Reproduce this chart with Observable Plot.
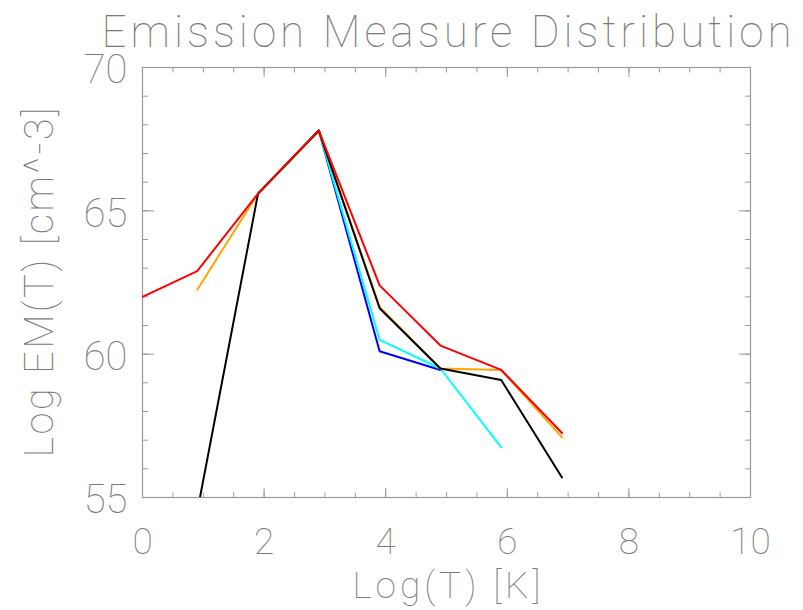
<!DOCTYPE html>
<html>
<head>
<meta charset="utf-8">
<script src="https://cdn.jsdelivr.net/npm/d3@7"></script>
<script src="https://cdn.jsdelivr.net/npm/@observablehq/plot@0.6"></script>
<style>
  html, body { margin: 0; padding: 0; background: #fff; }
</style>
</head>
<body>
<div id="chart"></div>
<script>
// Temperature bins, Log(T) [K]
const logT = [0, 0.9, 1.9, 2.9, 3.9, 4.9, 5.9, 6.9];

// Log EM(T) per model run (null = no value at that bin)
const emBlue   = [null, null, 65.6, 67.8, 60.1, 59.45, null, null];
const emCyan   = [null, null, 65.6, 67.8, 60.5, 59.5, 56.75, null];
const emOrange = [null, 62.25, 65.6, 67.8, 61.65, 59.5, 59.45, 57.1];
const emBlack  = [null, 54.5, 65.6, 67.8, 61.6, 59.5, 59.1, 55.7];
const emRed    = [62.0, 62.9, 65.6, 67.8, 62.4, 60.3, 59.45, 57.25];

const seriesNames  = ["blue", "cyan", "orange", "black", "red"];
const seriesColors = ["#4a30f2", "#30f0ff", "#ffc410", "#1a1a1a", "#ff2a2a"];
const seriesValues = [emBlue, emCyan, emOrange, emBlack, emRed];

// Axis ticks
const xMajor = [0, 2, 4, 6, 8, 10];
const xMinor = d3.range(0, 10.01, 0.5);
const yMajor = [55, 60, 65, 70];
const yMinor = d3.range(55, 70.01, 1);

const titleText = "Emission Measure Distribution";
const xLabel = "Log(T) [K]";
const yLabel = "Log EM(T) [cm^-3]";

// Tidy rows, drawn in series order (later series on top)
const rows = [];
seriesNames.forEach((name, s) => {
  seriesValues[s].forEach((v, i) => {
    if (v != null) rows.push({series: name, t: logT[i], em: v});
  });
});

const gray = "#7a7a7a";
const font = "Roboto";
const weight = 100;

const chart = Plot.plot({
  width: 803,
  height: 610,
  marginLeft: 142,
  marginRight: 53,
  marginTop: 67,
  marginBottom: 113,
  x: {domain: [0, 10]},
  y: {domain: [55, 70]},
  color: {domain: seriesNames, range: seriesColors},
  style: {background: "#fff", fontFamily: font},
  marks: [
    Plot.frame({stroke: "#999", strokeWidth: 1.2}),
    // inward ticks on all four sides
    Plot.axisX(xMinor, {anchor: "bottom", tickSize: -4.5, fill: "none", stroke: "#999", label: null}),
    Plot.axisX(xMinor, {anchor: "top", tickSize: -4.5, fill: "none", stroke: "#999", label: null}),
    Plot.axisX(xMajor, {anchor: "bottom", tickSize: -9, fill: "none", stroke: "#999", label: null}),
    Plot.axisX(xMajor, {anchor: "top", tickSize: -9, fill: "none", stroke: "#999", label: null}),
    Plot.axisY(yMinor, {anchor: "left", tickSize: -6, fill: "none", stroke: "#999", label: null}),
    Plot.axisY(yMinor, {anchor: "right", tickSize: -6, fill: "none", stroke: "#999", label: null}),
    Plot.axisY(yMajor, {anchor: "left", tickSize: -12, fill: "none", stroke: "#999", label: null}),
    Plot.axisY(yMajor, {anchor: "right", tickSize: -12, fill: "none", stroke: "#999", label: null}),
    // tick labels
    Plot.axisX(xMajor, {anchor: "bottom", tickSize: 0, tickPadding: 30, fontSize: 37, fontWeight: weight, fill: gray, label: null}),
    Plot.axisY(yMajor, {anchor: "left", tickSize: 0, tickPadding: 15, dy: 3, fontSize: 40, fontWeight: weight, fill: gray, label: null}),
    // data
    Plot.line(rows, {x: "t", y: "em", z: "series", stroke: "series", strokeWidth: 2, clip: true}),
    // title and axis titles
    Plot.text([titleText], {text: d => d, frameAnchor: "top", dy: -35, fontSize: 44, fontWeight: weight, fill: gray, lineAnchor: "middle"}),
    Plot.text([xLabel], {text: d => d, frameAnchor: "bottom", dy: 89, fontSize: 37, fontWeight: weight, fill: gray, lineAnchor: "middle"}),
    Plot.text([yLabel], {text: d => d, frameAnchor: "left", textAnchor: "middle", dx: -102, rotate: -90, fontSize: 40, fontWeight: weight, fill: gray, lineAnchor: "middle"})
  ]
});

// stretch the headings to their wide letter spacing
const spans = new Map([[titleText, 690], [xLabel, 188], [yLabel, 350]]);
d3.select(chart).selectAll("text")
  .filter(function () { return spans.has(this.textContent); })
  .each(function () {
    d3.select(this)
      .attr("textLength", spans.get(this.textContent))
      .attr("lengthAdjust", "spacing");
  });

document.getElementById("chart").appendChild(chart);
</script>
</body>
</html>
